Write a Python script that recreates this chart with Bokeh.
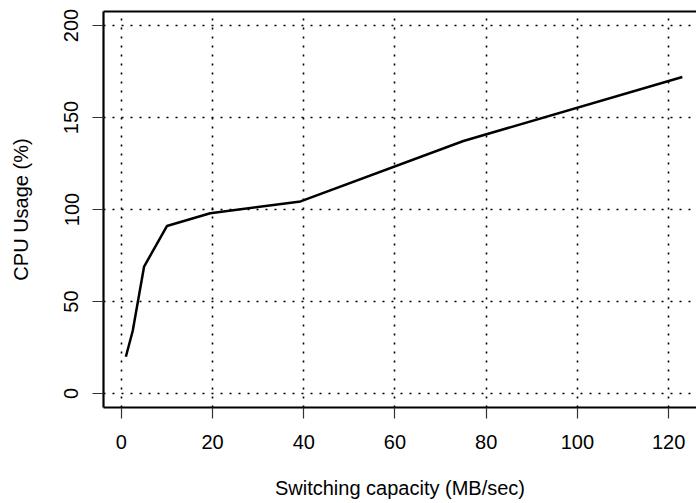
from bokeh.plotting import figure
from bokeh.models import Range1d, FixedTicker, LinearAxis
from bokeh.embed import file_html
from bokeh.resources import INLINE

# Data
capacity = [1, 2.5, 5, 10, 19.5, 39.3, 75, 123]       # Switching capacity (MB/sec)
cpu_usage = [20, 34, 69, 91, 98, 104.4, 137.2, 172]   # CPU Usage (%)

x_ticks = [0, 20, 40, 60, 80, 100, 120]
y_ticks = [0, 50, 100, 150, 200]

FONT = "Liberation Sans"
FS = "20px"

p = figure(width=696, height=503, output_backend="svg", toolbar_location=None,
           x_range=Range1d(-3.9, 126.1), y_range=Range1d(-7.6, 207.6),
           min_border_left=103, min_border_right=0, min_border_top=11, min_border_bottom=96,
           x_axis_label="Switching capacity (MB/sec)", y_axis_label="CPU Usage (%)")
p.outline_line_color = None
p.background_fill_color = "white"
p.border_fill_color = "white"

p.line(capacity, cpu_usage, line_color="black", line_width=2.5)

for ax, ticks in ((p.xaxis[0], x_ticks), (p.yaxis[0], y_ticks)):
    ax.ticker = FixedTicker(ticks=ticks)
    ax.minor_tick_line_color = None
    ax.major_tick_in = 0
    ax.major_tick_out = 11
    ax.major_tick_line_color = "#333333"
    ax.major_tick_line_width = 1.2
    ax.axis_line_color = "black"
    ax.axis_line_width = 2.2
    ax.major_label_text_font = FONT
    ax.major_label_text_font_size = FS
    ax.major_label_text_color = "black"
    ax.axis_label_text_font = FONT
    ax.axis_label_text_font_size = FS
    ax.axis_label_text_font_style = "normal"
    ax.axis_label_text_color = "black"

p.xaxis[0].major_label_standoff = 16
p.xaxis[0].axis_label_standoff = 25
p.yaxis[0].major_label_standoff = 14
p.yaxis[0].major_label_orientation = "vertical"
p.yaxis[0].axis_label_standoff = 30

top = LinearAxis(ticker=FixedTicker(ticks=[]), major_tick_in=0, major_tick_out=0,
                 minor_tick_in=0, minor_tick_out=0, major_label_text_font_size="0px",
                 major_label_standoff=0, axis_line_color="black", axis_line_width=2.2)
p.add_layout(top, "above")

for g, ticks in ((p.xgrid[0], x_ticks), (p.ygrid[0], y_ticks)):
    g.ticker = FixedTicker(ticks=ticks)
    g.grid_line_color = "black"
    g.grid_line_width = 1.6
    g.grid_line_dash = "2 7"

open("out.html", "w").write(file_html(p, INLINE))
